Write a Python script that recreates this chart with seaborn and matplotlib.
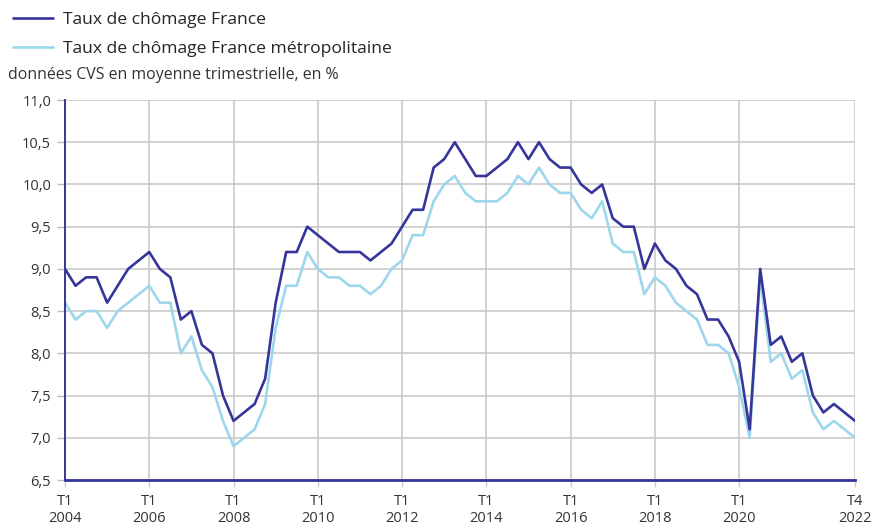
import matplotlib
matplotlib.use('Agg')
import matplotlib.pyplot as plt
import pandas as pd
import seaborn as sns
from matplotlib.lines import Line2D

# Quarterly unemployment rate, T1 2004 -> T4 2022
years = list(range(2004, 2023))
quarters = [1, 2, 3, 4]

france = [
    9.0, 8.8, 8.9, 8.9,
    8.6, 8.8, 9.0, 9.1,
    9.2, 9.0, 8.9, 8.4,
    8.5, 8.1, 8.0, 7.5,
    7.2, 7.3, 7.4, 7.7,
    8.6, 9.2, 9.2, 9.5,
    9.4, 9.3, 9.2, 9.2,
    9.2, 9.1, 9.2, 9.3,
    9.5, 9.7, 9.7, 10.2,
    10.3, 10.5, 10.3, 10.1,
    10.1, 10.2, 10.3, 10.5,
    10.3, 10.5, 10.3, 10.2,
    10.2, 10.0, 9.9, 10.0,
    9.6, 9.5, 9.5, 9.0,
    9.3, 9.1, 9.0, 8.8,
    8.7, 8.4, 8.4, 8.2,
    7.9, 7.1, 9.0, 8.1,
    8.2, 7.9, 8.0, 7.5,
    7.3, 7.4, 7.3, 7.2,
]
metropole = [
    8.6, 8.4, 8.5, 8.5,
    8.3, 8.5, 8.6, 8.7,
    8.8, 8.6, 8.6, 8.0,
    8.2, 7.8, 7.6, 7.2,
    6.9, 7.0, 7.1, 7.4,
    8.3, 8.8, 8.8, 9.2,
    9.0, 8.9, 8.9, 8.8,
    8.8, 8.7, 8.8, 9.0,
    9.1, 9.4, 9.4, 9.8,
    10.0, 10.1, 9.9, 9.8,
    9.8, 9.8, 9.9, 10.1,
    10.0, 10.2, 10.0, 9.9,
    9.9, 9.7, 9.6, 9.8,
    9.3, 9.2, 9.2, 8.7,
    8.9, 8.8, 8.6, 8.5,
    8.4, 8.1, 8.1, 8.0,
    7.6, 7.0, 8.9, 7.9,
    8.0, 7.7, 7.8, 7.3,
    7.1, 7.2, 7.1, 7.0,
]

labels = ['Taux de chômage France', 'Taux de chômage France métropolitaine']
colors = ['#36369a', '#9dd7ee']

tick_pos = [2004, 2006, 2008, 2010, 2012, 2014, 2016, 2018, 2020, 2022.75]
tick_labels = ['T1\n2004', 'T1\n2006', 'T1\n2008', 'T1\n2010', 'T1\n2012',
               'T1\n2014', 'T1\n2016', 'T1\n2018', 'T1\n2020', 'T4\n2022']
y_ticks = [6.5, 7.0, 7.5, 8.0, 8.5, 9.0, 9.5, 10.0, 10.5, 11.0]

# long-form table
t = [y + (q - 1) / 4 for y in years for q in quarters]
df = pd.concat([
    pd.DataFrame({'t': t, 'taux': france, 'serie': labels[0]}),
    pd.DataFrame({'t': t, 'taux': metropole, 'serie': labels[1]}),
])

sns.set_style('white')
plt.rcParams['font.family'] = ['Open Sans', 'DejaVu Sans']

fig = plt.figure(figsize=(8.73, 5.26), dpi=100)
ax = fig.add_axes([65 / 873, 1 - 480 / 526, 790 / 873, 380 / 526])

sns.lineplot(data=df, x='t', y='taux', hue='serie',
             hue_order=[labels[1], labels[0]],
             palette={labels[0]: colors[0], labels[1]: colors[1]},
             linewidth=1.9, legend=False, ax=ax)

ax.set_xlim(2004, 2022.75)
ax.set_ylim(6.5, 11.0)
ax.set_xticks(tick_pos)
ax.set_xticklabels(tick_labels, fontsize=10.5, color='#333333', linespacing=1.15)
ax.set_yticks(y_ticks)
ax.set_yticklabels([f'{v:.1f}'.replace('.', ',') for v in y_ticks],
                   fontsize=10.5, color='#333333')
ax.set_xlabel('')
ax.set_ylabel('')

ax.grid(True, color='#c6c6c6', linewidth=1.1)
ax.set_axisbelow(True)
for s in ['top', 'right']:
    ax.spines[s].set_visible(False)
ax.spines['left'].set_color(colors[0])
ax.spines['left'].set_linewidth(1.4)
ax.spines['bottom'].set_color(colors[0])
ax.spines['bottom'].set_linewidth(2.0)
ax.spines['left'].set_zorder(3)
ax.spines['bottom'].set_zorder(3)
ax.tick_params(axis='y', length=6, width=1, color='#bbbbbb', pad=4, left=True)
ax.tick_params(axis='x', length=5, width=1, color='#cccccc', pad=5, bottom=True)

handles = [Line2D([], [], color=c, linewidth=1.9) for c in colors]
fig.legend(handles, labels, loc='upper left', bbox_to_anchor=(2 / 873, 1 - 1 / 526),
           frameon=False, fontsize=12.6, handlelength=2.3, handletextpad=0.6,
           labelspacing=0.75, borderaxespad=0.2)

fig.text(8 / 873, 1 - 75 / 526, 'données CVS en moyenne trimestrielle, en %',
         fontsize=11.4, color='#333333', va='center', ha='left')

fig.savefig('out.png', dpi=100)
